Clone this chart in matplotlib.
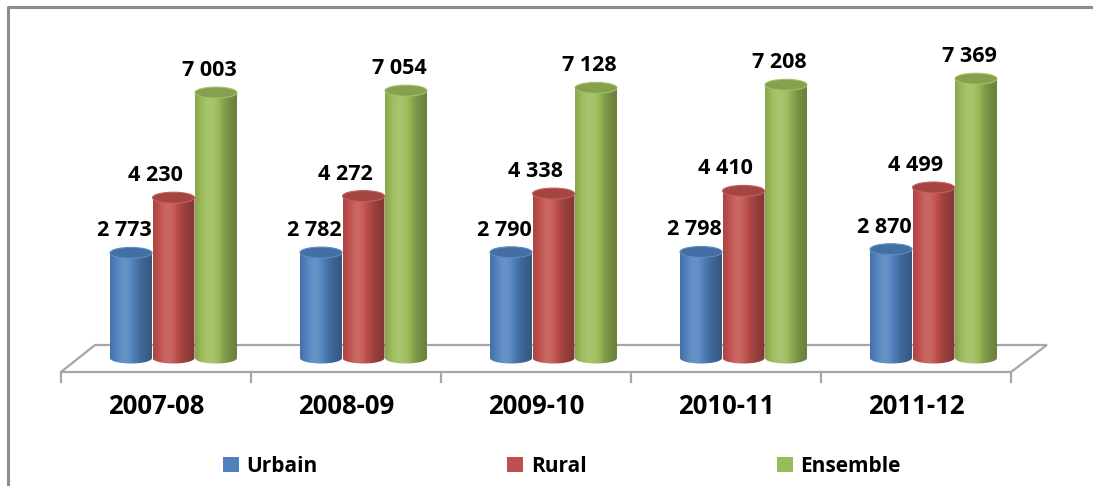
#!/usr/bin/env python3
"""Urbain / Rural / Ensemble par campagne, 2007-08 to 2011-12.

Excel-style 3D cylinder columns, drawn with plain matplotlib patches.

Output:
  - out.png
"""

import matplotlib
matplotlib.use("Agg")
import matplotlib.pyplot as plt
import numpy as np
from matplotlib.lines import Line2D
from matplotlib.patches import Ellipse, Patch, PathPatch, Polygon
from matplotlib.path import Path

# ---- data -------------------------------------------------------------
years = ["2007-08", "2008-09", "2009-10", "2010-11", "2011-12"]
series_names = ["Urbain", "Rural", "Ensemble"]
urbain = [2773, 2782, 2790, 2798, 2870]
rural = [4230, 4272, 4338, 4410, 4499]
ensemble = [7003, 7054, 7128, 7208, 7369]

# ---- style ------------------------------------------------------------
COLORS = ["#4F81BD", "#C0504D", "#9BBB59"]
FONT = ["Open Sans", "DejaVu Sans"]
SERIES_DX = [-0.1316, 0.0921, 0.3158]   # cylinder centre vs category centre
HALF_W = 0.1105                         # cylinder half width (category units)
ELL_H = 145                             # semi-axis of the end ellipses (value units)
LABEL_DX = [-7, -18, -7]                # value label shift, pixels

plt.rcParams.update({
    "font.family": FONT, "font.weight": "bold",
    "figure.dpi": 100, "savefig.dpi": 100,
})


def shade(color, f):
    c = np.array(matplotlib.colors.to_rgb(color))
    if f >= 1:
        return c + (1 - c) * (f - 1)
    return c * f


def cylinder(ax, cx, h, color, z):
    w, e = HALF_W, ELL_H
    t = np.linspace(0, np.pi, 40)
    verts = [(cx - w, h), (cx + w, h)]
    verts += list(zip(cx + w * np.cos(t), -e * np.sin(t)))
    verts.append((cx - w, h))
    body = PathPatch(Path(verts), facecolor="none", edgecolor="none")
    ax.add_patch(body)

    # horizontal shading: darker edges, highlight a bit left of centre
    tt = np.linspace(0, 1, 80)
    prof = 0.80 + 0.34 * np.exp(-((tt - 0.36) / 0.30) ** 2) - 0.12 * tt ** 3
    grad = np.array([[shade(color, f) for f in prof]])
    im = ax.imshow(grad, extent=[cx - w, cx + w, -e, h], aspect="auto",
                   interpolation="bilinear", zorder=z)
    im.set_clip_path(body)

    ax.add_patch(Ellipse((cx, h), 2 * w, 2 * e, facecolor=shade(color, 0.86),
                         edgecolor=shade(color, 1.08), linewidth=0.8, zorder=z + 0.1))


def main():
    fig = plt.figure(figsize=(10.93, 4.86))
    ax = fig.add_axes([0, 0, 1, 1])
    ax.set_axis_off()

    n = len(years)
    x = np.arange(n)

    # floor of the 3D plot
    y_back, y_front, y_tick = 343, -369, -633
    floor = Polygon([(-0.5, y_front), (-0.321, y_back), (n - 0.311, y_back),
                     (n - 0.5, y_front)], closed=True, facecolor="white",
                    edgecolor="#A6A6A6", linewidth=1.6, zorder=1)
    ax.add_patch(floor)
    for k in range(n + 1):
        ax.plot([k - 0.5, k - 0.5], [y_front, y_tick], color="#A6A6A6",
                linewidth=1.6, zorder=1)

    # cylinders + value labels
    for s, vals in enumerate([urbain, rural, ensemble]):
        for i, v in enumerate(vals):
            cx = x[i] + SERIES_DX[s]
            cylinder(ax, cx, v, COLORS[s], 3 + s)
            ax.annotate(f"{v:,}".replace(",", " "), xy=(cx, v),
                        xytext=(LABEL_DX[s], 22), textcoords="offset pixels",
                        ha="center", va="center", fontsize=15.5,
                        fontweight="bold", color="black", zorder=10)

    # category labels
    for i, lab in enumerate(years):
        ax.text(x[i], -1290, lab, ha="center", va="center", fontsize=18.5,
                fontweight="bold", color="black")

    ax.set_xlim(-0.8211, 4.9316)
    ax.set_ylim(-3377, 9446)

    # legend
    handles = [Patch(facecolor=c, edgecolor="none") for c in COLORS]
    fig.legend(handles, series_names, loc="center", bbox_to_anchor=(0.514, 0.041),
               ncol=3, frameon=False, prop={"family": FONT, "weight": "bold", "size": 15},
               handlelength=0.77, handleheight=0.75, handletextpad=0.38,
               columnspacing=9.1)

    # chart area border (cropped at right and bottom)
    fig.add_artist(Line2D([0.0073, 0.0073, 1.0], [0.0, 0.9856, 0.9856],
                          color="#8C8C8C", linewidth=2.2))

    fig.savefig("out.png")
    plt.close(fig)


if __name__ == "__main__":
    main()
